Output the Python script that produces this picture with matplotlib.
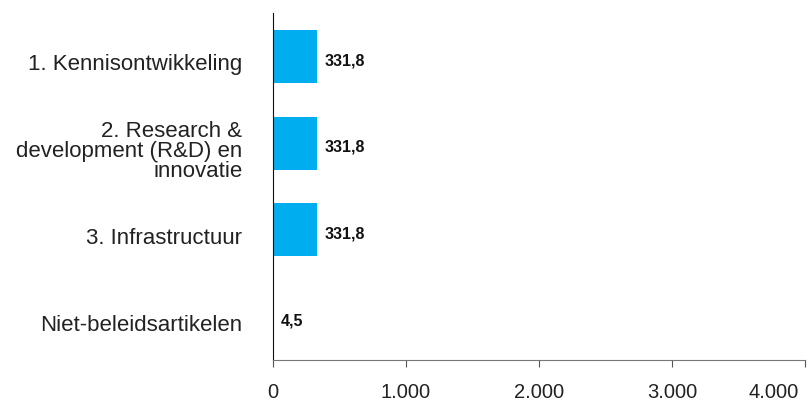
import matplotlib
matplotlib.use("Agg")
import matplotlib.pyplot as plt
from matplotlib.ticker import FuncFormatter
import matplotlib.transforms as mtransforms

categories = ["1. Kennisontwikkeling",
              "2. Research &\ndevelopment (R&D) en\ninnovatie",
              "3. Infrastructuur",
              "Niet-beleidsartikelen"]
values = [331.8, 331.8, 331.8, 4.5]
value_labels = ["331,8", "331,8", "331,8", "4,5"]
xticks = [0, 1000, 2000, 3000, 4000]

plt.rcParams['font.family'] = ['Liberation Sans', 'DejaVu Sans']

fig = plt.figure(figsize=(8.08, 4.03), dpi=100)
ax = fig.add_axes([273/808, 1-360/403, 532/808, 347/403])

pos = list(range(len(categories)))
ax.barh(pos, values, height=0.61, color="#00AEEF")
for p, v, lab in zip(pos, values, value_labels):
    ax.text(v + 55, p + 0.05, lab, va="center", ha="left", fontsize=11.5, fontweight="bold", color="#111111")

ax.set_ylim(3.5, -0.5)
ax.set_xlim(0, 4000)
ax.set_yticks(pos)
ax.set_yticklabels(categories, fontsize=16, color="#222222", ha="right",
                   multialignment="right", linespacing=0.95)
ax.tick_params(axis="y", length=0, pad=22)
shift_down = mtransforms.ScaledTranslation(0, -6/100, fig.dpi_scale_trans)
for t in ax.get_yticklabels():
    t.set_transform(t.get_transform() + shift_down)

ax.set_xticks(xticks)
ax.xaxis.set_major_formatter(FuncFormatter(lambda x, p: f"{int(x):,}".replace(",", ".")))
ax.tick_params(axis="x", length=5, color="#555555", labelsize=14.5, labelcolor="#222222", pad=11.5)

# shift last x tick label left so it fits within the figure
lbl = ax.get_xticklabels()[-1]
lbl.set_transform(lbl.get_transform() + mtransforms.ScaledTranslation(-31/100, 0, fig.dpi_scale_trans))

for s in ["top", "right"]:
    ax.spines[s].set_visible(False)
ax.spines["left"].set_color("#111111")
ax.spines["bottom"].set_color("#777777")

fig.savefig("out.png", dpi=100)
